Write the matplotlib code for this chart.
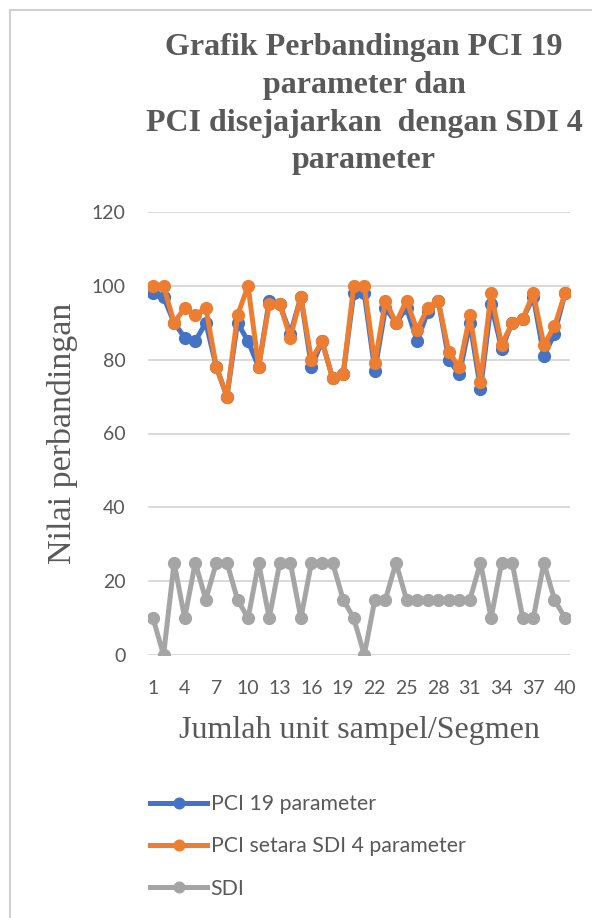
import matplotlib
matplotlib.use("Agg")
import matplotlib.pyplot as plt
from matplotlib.patches import Rectangle

# data
segments = list(range(1, 41))
pci_19 = [98, 97, 90, 86, 85, 90, 78, 70, 90, 85, 78, 96, 95, 87, 97, 78, 85, 75, 76, 98,
          98, 77, 94, 90, 94, 85, 93, 96, 80, 76, 90, 72, 95, 83, 90, 91, 97, 81, 87, 98]
pci_sdi = [100, 100, 90, 94, 92, 94, 78, 70, 92, 100, 78, 95, 95, 86, 97, 80, 85, 75, 76, 100,
           100, 79, 96, 90, 96, 88, 94, 96, 82, 78, 92, 74, 98, 84, 90, 91, 98, 84, 89, 98]
sdi = [10, 0, 25, 10, 25, 15, 25, 25, 15, 10, 25, 10, 25, 25, 10, 25, 25, 25, 15, 10,
       0, 15, 15, 25, 15, 15, 15, 15, 15, 15, 15, 25, 10, 25, 25, 10, 10, 25, 15, 10]
xtick_labels = [1, 4, 7, 10, 13, 16, 19, 22, 25, 28, 31, 34, 37, 40]
yticks = [0, 20, 40, 60, 80, 100, 120]

W, H = 592, 918
fig = plt.figure(figsize=(W / 100, H / 100), dpi=100)

# chart frame
fig.patches.append(Rectangle((10 / W, -0.05), 1.2, 1 - 10 / H + 0.05, transform=fig.transFigure,
                             fill=False, edgecolor="#d0d0d0", lw=1.5))

ax = fig.add_axes([147.7 / W, 1 - 655 / H, (570.3 - 147.7) / W, (655 - 212) / H])

txt_col = "#595959"
sans = ["Lato", "DejaVu Sans"]
serif = ["Liberation Serif", "DejaVu Serif"]

ax.plot(segments, pci_19, color="#4472C4", lw=3.6, marker="o", ms=8.5, label="PCI 19 parameter")
ax.plot(segments, pci_sdi, color="#ED7D31", lw=3.6, marker="o", ms=8.5, label="PCI setara SDI 4 parameter")
ax.plot(segments, sdi, color="#A5A5A5", lw=3.6, marker="o", ms=8.5, label="SDI")

ax.set_xlim(0.5, 40.5)
ax.set_ylim(0, 120)
ax.set_yticks(yticks)
ax.set_xticks(xtick_labels)
ax.set_xticklabels([str(v) for v in xtick_labels])
ax.grid(axis="y", color="#d9d9d9", lw=1.4)
ax.set_axisbelow(True)
for s in ax.spines.values():
    s.set_visible(False)
ax.tick_params(length=0, labelsize=14, labelcolor=txt_col)
ax.tick_params(axis="x", pad=18)
ax.tick_params(axis="y", pad=16)
for lab in ax.get_xticklabels() + ax.get_yticklabels():
    lab.set_family(sans)

ax.set_ylabel("Nilai perbandingan", family=serif, fontsize=24.5, color=txt_col, labelpad=10)
ax.set_xlabel("Jumlah unit sampel/Segmen", family=serif, fontsize=23, color=txt_col, labelpad=14)

fig.text(364 / W, 1 - 33 / H,
         "Grafik Perbandingan PCI 19\nparameter dan\nPCI disejajarkan  dengan SDI 4\nparameter",
         ha="center", va="top", family=serif, fontsize=23, fontweight="bold", color=txt_col,
         linespacing=1.4)

leg = fig.legend(loc="upper left", bbox_to_anchor=(150 / W, 1 - 794 / H), frameon=False,
                 borderpad=0, borderaxespad=0,
                 prop={"family": sans, "size": 15.3}, labelcolor=txt_col,
                 handlelength=2.7, handletextpad=0.15, labelspacing=1.05, markerscale=0.9)

fig.savefig("out.png", dpi=100)
